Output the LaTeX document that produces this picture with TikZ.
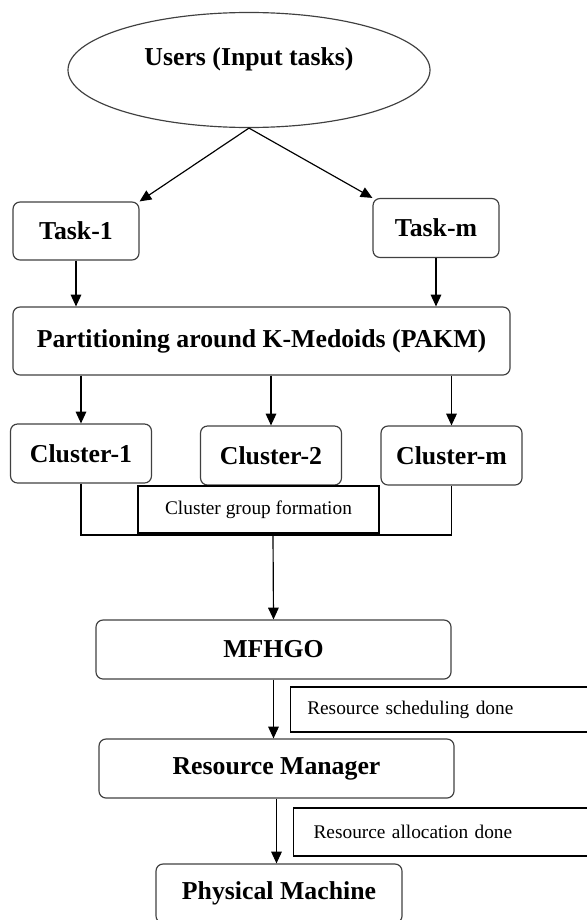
\documentclass[tikz,border=0pt]{standalone}
\usepackage{fontspec}
\setmainfont{Liberation Serif}
\usetikzlibrary{shapes.geometric,arrows.meta}

\begin{document}
\begin{tikzpicture}[x=0.03cm,y=-0.03cm]
	\tikzset{box/.style={shape=rectangle,draw=black!75,rounded corners=6pt,line width=1pt,font=\fontsize{22}{26}\selectfont\bfseries},
		note/.style={shape=rectangle,draw=black,fill=white,line width=1pt,font=\fontsize{16.5}{20}\selectfont},
		arr/.style={-{Triangle[length=10pt,width=9pt]},line width=1pt}}
	\useasboundingbox (0,0) rectangle (587,920);
	\clip (0,0) rectangle (587,920);

	\node[shape=ellipse,draw=black!75,line width=1pt,minimum width=10.86cm,minimum height=3.45cm,text depth=0.8cm,font=\fontsize{22}{26}\selectfont\bfseries] (U) at (249,70) {Users (Input tasks)};
	\node[box,minimum width=3.78cm,minimum height=1.74cm] (T1) at (76,231) {Task-1};
	\node[box,minimum width=3.78cm,minimum height=1.77cm] (Tm) at (436,228) {Task-m};
	\node[box,minimum width=14.91cm,minimum height=2.04cm] (P) at (261.5,341) {Partitioning around K-Medoids (PAKM)};

	\node[box,minimum width=4.23cm,minimum height=1.77cm] (C1) at (81,453.5) {Cluster-1};
	\node[box,minimum width=4.23cm,minimum height=1.77cm] (C2) at (271,455.5) {Cluster-2};
	\node[box,minimum width=4.23cm,minimum height=1.77cm] (Cm) at (451.5,455.5) {Cluster-m};
	\coordinate (J) at (273,535);

	\node[box,minimum width=10.65cm,minimum height=1.77cm] (M) at (273.5,649.5) {MFHGO};
	\node[box,minimum width=10.65cm,minimum height=1.77cm] (R) at (276.5,768.5) {Resource Manager};
	\node[box,minimum width=7.38cm,minimum height=1.77cm] (PM) at (279,893.5) {Physical Machine};

	\draw[arr] (U.south) -- (T1.north east);
	\draw[arr] (U.south) -- (Tm.north west);
	\draw[arr] (T1.south) -- (T1.south |- P.north);
	\draw[arr] (Tm.south) -- (Tm.south |- P.north);
	\foreach \c in {C1,C2,Cm}
		\draw[arr] (\c.north |- P.south) -- (\c.north);

	\draw[line width=1pt] (C1.south) -- (C1.south |- J) -- (Cm.south |- J) -- (Cm.south);
	\node[note,minimum width=7.23cm,minimum height=1.41cm] (F) at (258.5,509.5) {Cluster group formation};
	\draw[line width=1pt] (C2.south) -- (C2.south |- F.north);
	\draw[arr] (J) -- (M.north);

	\draw[arr] (M.south) -- (M.south |- R.north);
	\draw[arr] (R.south) -- (R.south |- PM.north);

	\node[note,anchor=west,minimum height=1.35cm,text width=9cm,align=left,inner xsep=0.5cm] (S) at (290,709.5) {Resource scheduling done};
	\node[note,anchor=west,minimum height=1.44cm,text width=9cm,align=left,inner xsep=0.6cm] (A) at (293,832) {Resource allocation done};
\end{tikzpicture}
\end{document}
